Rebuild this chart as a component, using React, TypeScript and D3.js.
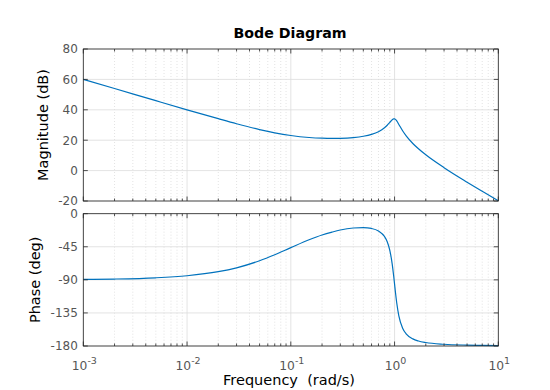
import React from "react";
import * as d3 from "d3";

const freq = [0.001, 0.002, 0.005, 0.01, 0.02, 0.03, 0.05, 0.07, 0.1, 0.15, 0.2, 0.25, 0.3, 0.4, 0.5, 0.6, 0.7, 0.8, 0.85, 0.9, 0.95, 0.98, 1.0, 1.02, 1.05, 1.1, 1.2, 1.3, 1.5, 1.7, 2, 3, 5, 7, 10];
const magnitudeDb = [60.0, 54.0, 46.0, 40.0, 34.15, 30.83, 27.0, 24.87, 23.1, 21.79, 21.32, 21.2, 21.26, 21.74, 22.59, 23.85, 25.62, 28.16, 29.81, 31.7, 33.46, 34.03, 34.0, 33.68, 32.67, 30.37, 26.03, 22.67, 17.84, 14.34, 10.39, 1.92, -7.61, -13.63, -19.9];
const phaseDeg = [-89.44, -88.88, -87.19, -84.4, -78.92, -73.64, -64.0, -55.82, -46.16, -35.45, -28.95, -25.0, -22.2, -19.48, -18.91, -20.08, -23.48, -31.09, -38.2, -49.79, -68.84, -84.41, -95.71, -106.8, -121.46, -138.86, -156.15, -163.75, -170.31, -173.17, -175.26, -177.62, -178.76, -179.15, -179.41];

const xDecades = [-3, -2, -1, 0, 1];
const magTicks = [-20, 0, 20, 40, 60, 80];
const phaseTicks = [-180, -135, -90, -45, 0];

const FONT = "DejaVu Sans, sans-serif";
const AX = "#262626";
const TICKTXT = "#555";
const GRID = "#dcdcdc";
const LINE = "#0072BD";

const L = 83.3, R = 498.3;
const magTop = 49, magBot = 201;
const phTop = 213.7, phBot = 346;

const x = d3.scaleLog().domain([1e-3, 10]).range([L, R]);
const yMag = d3.scaleLinear().domain([-20, 80]).range([magBot, magTop]);
const yPh = d3.scaleLinear().domain([-180, 0]).range([phBot, phTop]);

const minorFreqs: number[] = [];
for (let e = -3; e < 1; e++) for (let k = 2; k <= 9; k++) minorFreqs.push(k * Math.pow(10, e));

function Panel({ y, top, bot, ticks, values }: any) {
  const line = d3
    .line<number>()
    .x((_, i) => x(freq[i]))
    .y((v) => y(v))
    .curve(d3.curveMonotoneX);
  return (
    <g>
      {minorFreqs.map((f, i) => (
        <line key={"mg" + i} x1={x(f)} x2={x(f)} y1={top} y2={bot} stroke={GRID} strokeWidth={0.8} strokeDasharray="1,2" />
      ))}
      {xDecades.map((e) => (
        <line key={"xg" + e} x1={x(Math.pow(10, e))} x2={x(Math.pow(10, e))} y1={top} y2={bot} stroke={GRID} strokeWidth={0.8} />
      ))}
      {ticks.map((t: number) => (
        <line key={"yg" + t} x1={L} x2={R} y1={y(t)} y2={y(t)} stroke={GRID} strokeWidth={0.8} />
      ))}
      <path d={line(values) || ""} fill="none" stroke={LINE} strokeWidth={1.2} />
      <rect x={L} y={top} width={R - L} height={bot - top} fill="none" stroke={AX} strokeWidth={0.8} />
      {xDecades.map((e) => {
        const xx = x(Math.pow(10, e));
        return (
          <g key={"xt" + e}>
            <line x1={xx} x2={xx} y1={bot} y2={bot - 4.5} stroke={AX} strokeWidth={0.8} />
            <line x1={xx} x2={xx} y1={top} y2={top + 4.5} stroke={AX} strokeWidth={0.8} />
          </g>
        );
      })}
      {minorFreqs.map((f, i) => (
        <g key={"mt" + i}>
          <line x1={x(f)} x2={x(f)} y1={bot} y2={bot - 2.5} stroke={AX} strokeWidth={0.8} />
          <line x1={x(f)} x2={x(f)} y1={top} y2={top + 2.5} stroke={AX} strokeWidth={0.8} />
        </g>
      ))}
      {ticks.map((t: number) => (
        <g key={"yt" + t}>
          <line x1={L} x2={L + 4.5} y1={y(t)} y2={y(t)} stroke={AX} strokeWidth={0.8} />
          <line x1={R} x2={R - 4.5} y1={y(t)} y2={y(t)} stroke={AX} strokeWidth={0.8} />
          <text x={L - 5.5} y={y(t)} dy="0.36em" textAnchor="end" fontSize={12} fill={TICKTXT} fontFamily={FONT}>
            {t}
          </text>
        </g>
      ))}
    </g>
  );
}

export default function App() {
  return (
    <svg width={550} height={390} style={{ position: "absolute", left: 0, top: 0, background: "#fff" }}>
      <rect width={550} height={390} fill="#fff" />
      <text x={290} y={38} textAnchor="middle" fontSize={14.2} fontWeight="bold" fill="#000" fontFamily={FONT}>
        Bode Diagram
      </text>
      <Panel y={yMag} top={magTop} bot={magBot} ticks={magTicks} values={magnitudeDb} />
      <Panel y={yPh} top={phTop} bot={phBot} ticks={phaseTicks} values={phaseDeg} />
      {xDecades.map((e) => (
        <text key={"xl" + e} x={x(Math.pow(10, e)) + 1} y={369.5} textAnchor="middle" fontSize={12.3} fill={TICKTXT} fontFamily={FONT}>
          10
          <tspan dy={-6} fontSize={9.5}>{e}</tspan>
        </text>
      ))}
      <text transform={`translate(47.5,${(magTop + magBot) / 2}) rotate(-90)`} textAnchor="middle" fontSize={14.5} fill="#000" fontFamily={FONT}>
        Magnitude (dB)
      </text>
      <text transform={`translate(39.5,${(phTop + phBot) / 2}) rotate(-90)`} textAnchor="middle" fontSize={14.5} fill="#000" fontFamily={FONT}>
        Phase (deg)
      </text>
      <text x={289} y={385} textAnchor="middle" fontSize={14.5} fill="#000" fontFamily={FONT} style={{ whiteSpace: "pre" }}>
        {"Frequency  (rad/s)"}
      </text>
    </svg>
  );
}
